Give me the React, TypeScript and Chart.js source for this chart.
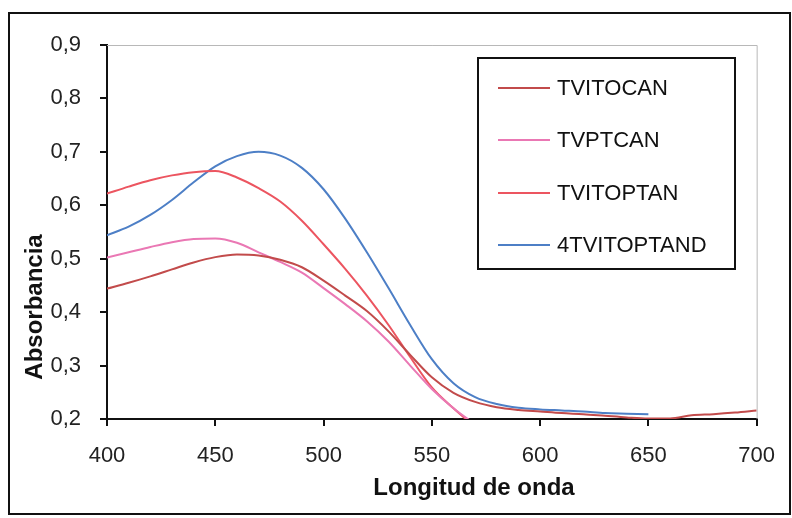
import { useEffect, useRef } from 'react';
import { Chart, registerables } from 'chart.js';

Chart.register(...registerables);

const wavelengths = [400, 410, 420, 430, 440, 450, 460, 470, 480, 490, 500, 510, 520, 530, 540, 550, 560, 570, 580, 590, 600, 610, 620, 630, 640, 650, 660, 670, 680, 690, 700];

const seriesNames = ['TVITOCAN', 'TVPTCAN', 'TVITOPTAN', '4TVITOPTAND'];
const seriesColors = ['#c24b4b', '#ea78b4', '#ec5560', '#4d7fc6'];

const tvitocan = [0.444, 0.455, 0.467, 0.480, 0.493, 0.503, 0.508, 0.506, 0.498, 0.484, 0.459, 0.431, 0.402, 0.364, 0.320, 0.278, 0.249, 0.232, 0.222, 0.217, 0.214, 0.211, 0.209, 0.206, 0.203, 0.201, 0.201, 0.207, 0.209, 0.212, 0.216];
const tvptcan = [0.502, 0.512, 0.522, 0.531, 0.537, 0.538, 0.530, 0.512, 0.494, 0.474, 0.445, 0.415, 0.383, 0.345, 0.300, 0.256, 0.220, 0.190, null, null, null, null, null, null, null, null, null, null, null, null, null];
const tvitoptan = [0.622, 0.635, 0.647, 0.656, 0.662, 0.664, 0.652, 0.632, 0.607, 0.571, 0.527, 0.481, 0.431, 0.376, 0.316, 0.259, 0.220, 0.185, null, null, null, null, null, null, null, null, null, null, null, null, null];
const tvitoptand = [0.544, 0.560, 0.582, 0.610, 0.643, 0.673, 0.692, 0.700, 0.693, 0.670, 0.630, 0.575, 0.512, 0.445, 0.376, 0.312, 0.267, 0.241, 0.228, 0.221, 0.218, 0.216, 0.214, 0.211, 0.210, 0.209, null, null, null, null, null];

const yTicksMin = 0.2;
const yTicksMax = 0.9;
const yStep = 0.1;
const xMin = 400;
const xMax = 700;
const xStep = 50;

const xTitle = 'Longitud de onda';
const yTitle = 'Absorbancia';

const FONT = "'Liberation Sans', Arial, sans-serif";

const decorPlugin = {
  id: 'decor',
  beforeDraw(chart: any) {
    const { ctx, width, height } = chart;
    ctx.save();
    ctx.fillStyle = '#ffffff';
    ctx.fillRect(0, 0, width, height);
    ctx.restore();
  },
  beforeDatasetsDraw(chart: any) {
    const { ctx, chartArea } = chart;
    ctx.save();
    ctx.strokeStyle = '#b8b8b8';
    ctx.lineWidth = 1;
    ctx.beginPath();
    ctx.moveTo(chartArea.left, chartArea.top + 0.5);
    ctx.lineTo(chartArea.right + 0.5, chartArea.top + 0.5);
    ctx.lineTo(chartArea.right + 0.5, chartArea.bottom);
    ctx.stroke();
    ctx.restore();
  },
  afterDraw(chart: any) {
    const { ctx } = chart;
    ctx.save();
    ctx.strokeStyle = '#111';
    ctx.lineWidth = 2;
    ctx.strokeRect(9, 13, 781, 501);

    ctx.fillStyle = '#111';
    ctx.font = `bold 24px ${FONT}`;
    ctx.textAlign = 'center';
    ctx.textBaseline = 'middle';
    ctx.fillText(xTitle, 474, 488);
    ctx.save();
    ctx.translate(35, 307);
    ctx.rotate(-Math.PI / 2);
    ctx.fillText(yTitle, 0, 0);
    ctx.restore();

    const bx = 478, by = 58, bw = 257, bh = 211;
    ctx.fillStyle = '#fff';
    ctx.fillRect(bx, by, bw, bh);
    ctx.strokeStyle = '#111';
    ctx.lineWidth = 2;
    ctx.strokeRect(bx, by, bw, bh);
    const rows = [88, 140, 193, 245];
    ctx.font = `22px ${FONT}`;
    ctx.textAlign = 'left';
    ctx.textBaseline = 'middle';
    chart.data.datasets.forEach((ds: any, i: number) => {
      const y = rows[i];
      ctx.strokeStyle = ds.borderColor;
      ctx.lineWidth = 2;
      ctx.beginPath();
      ctx.moveTo(498, y);
      ctx.lineTo(550, y);
      ctx.stroke();
      ctx.fillStyle = '#111';
      ctx.fillText(ds.label, 557, y + 1);
    });
    ctx.restore();
  },
};

export default function App() {
  const ref = useRef<HTMLCanvasElement | null>(null);
  useEffect(() => {
    if (!ref.current) return;
    const series = [tvitocan, tvptcan, tvitoptan, tvitoptand];
    const chart = new Chart(ref.current, {
      type: 'line',
      data: {
        datasets: series.map((arr, i) => ({
          label: seriesNames[i],
          data: wavelengths.map((w, j) => ({ x: w, y: arr[j] })),
          borderColor: seriesColors[i],
          backgroundColor: seriesColors[i],
          borderWidth: 2,
          pointRadius: 0,
          cubicInterpolationMode: 'monotone',
          spanGaps: false,
          fill: false,
        })),
      },
      options: {
        animation: false,
        responsive: false,
        maintainAspectRatio: false,
        layout: { padding: { left: 0, right: 35, top: 45, bottom: 0 } },
        plugins: {
          legend: { display: false },
          tooltip: { enabled: false },
          title: { display: false },
        },
        scales: {
          x: {
            type: 'linear',
            min: xMin,
            max: xMax,
            afterFit: (s: any) => { s.height = 99; },
            border: { display: true, color: '#111', width: 2 },
            grid: { display: true, drawOnChartArea: false, drawTicks: true, tickLength: 7, color: '#111', lineWidth: 2 },
            ticks: {
              stepSize: xStep,
              padding: 17,
              color: '#222',
              font: { family: FONT, size: 22 },
              maxRotation: 0,
              callback: (v: any) => String(v),
            },
          },
          y: {
            type: 'linear',
            min: yTicksMin,
            max: yTicksMax,
            afterFit: (s: any) => { s.width = 107; },
            border: { display: true, color: '#111', width: 2 },
            grid: { display: true, drawOnChartArea: false, drawTicks: true, tickLength: 7, color: '#111', lineWidth: 2 },
            ticks: {
              stepSize: yStep,
              padding: 19,
              color: '#222',
              font: { family: FONT, size: 22 },
              callback: (v: any) => Number(v).toFixed(1).replace('.', ','),
            },
          },
        },
      },
      plugins: [decorPlugin],
    } as any);
    return () => chart.destroy();
  }, []);
  return (
    <div style={{ position: 'fixed', left: 0, top: 0, width: 792, height: 518, background: '#fff' }}>
      <canvas ref={ref} width={792} height={518} style={{ display: 'block' }} />
    </div>
  );
}
